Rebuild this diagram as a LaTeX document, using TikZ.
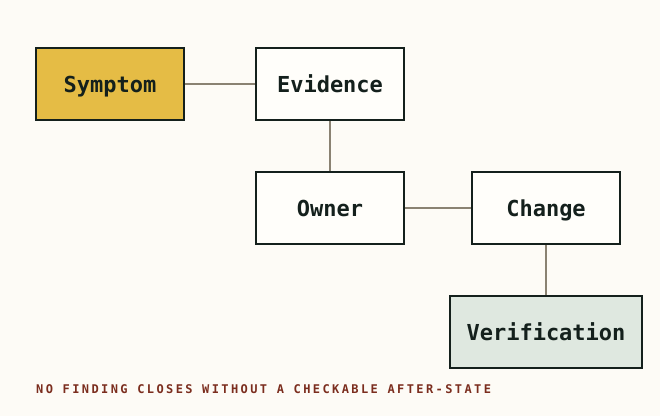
\documentclass[tikz,border=0pt]{standalone}
\usepackage{fontspec}
\setmonofont{DejaVu Sans Mono}
\newfontfamily\boxfont{DejaVu Sans Mono}
\newfontfamily\footfont[LetterSpace=20]{DejaVu Sans Mono}
\definecolor{bg}{HTML}{FDFBF6}
\definecolor{paper}{HTML}{FFFEFA}
\definecolor{ink}{HTML}{14201C}
\definecolor{gold}{HTML}{E5BC45}
\definecolor{sage}{HTML}{DFE8E0}
\definecolor{wire}{HTML}{8A8272}
\definecolor{rust}{HTML}{7B2D1E}
\begin{document}
\begin{tikzpicture}[x=1pt,y=-1pt,
  box/.style={draw=ink,line width=1.8pt,fill=paper,minimum width=148pt,minimum height=72pt,inner sep=0pt,text height=16pt,text depth=0pt,font=\boxfont\bfseries\fontsize{22}{26}\selectfont,text=ink},
  wire/.style={draw=wire,line width=1.4pt}]
\fill[bg] (0,0) rectangle (660,416);
\useasboundingbox (0,0) rectangle (660,416);
\node[box,fill=gold] (sym) at (110,84) {Symptom};
\node[box] (evi) at (330,84) {Evidence};
\node[box] (own) at (330,208) {Owner};
\node[box] (chg) at (546,208) {Change};
\node[box,fill=sage,minimum width=192pt] (ver) at (546,332) {Verification};
\draw[wire] (sym) -- (evi);
\draw[wire] (evi) -- (own);
\draw[wire] (own) -- (chg);
\draw[wire] (chg) -- (ver);
\node[anchor=base west,inner sep=0pt,text=rust,font=\footfont\bfseries\fontsize{12}{14}\selectfont] (foot) at (36,393) {NO FINDING CLOSES WITHOUT A CHECKABLE AFTER-STATE};
\end{tikzpicture}
\end{document}
